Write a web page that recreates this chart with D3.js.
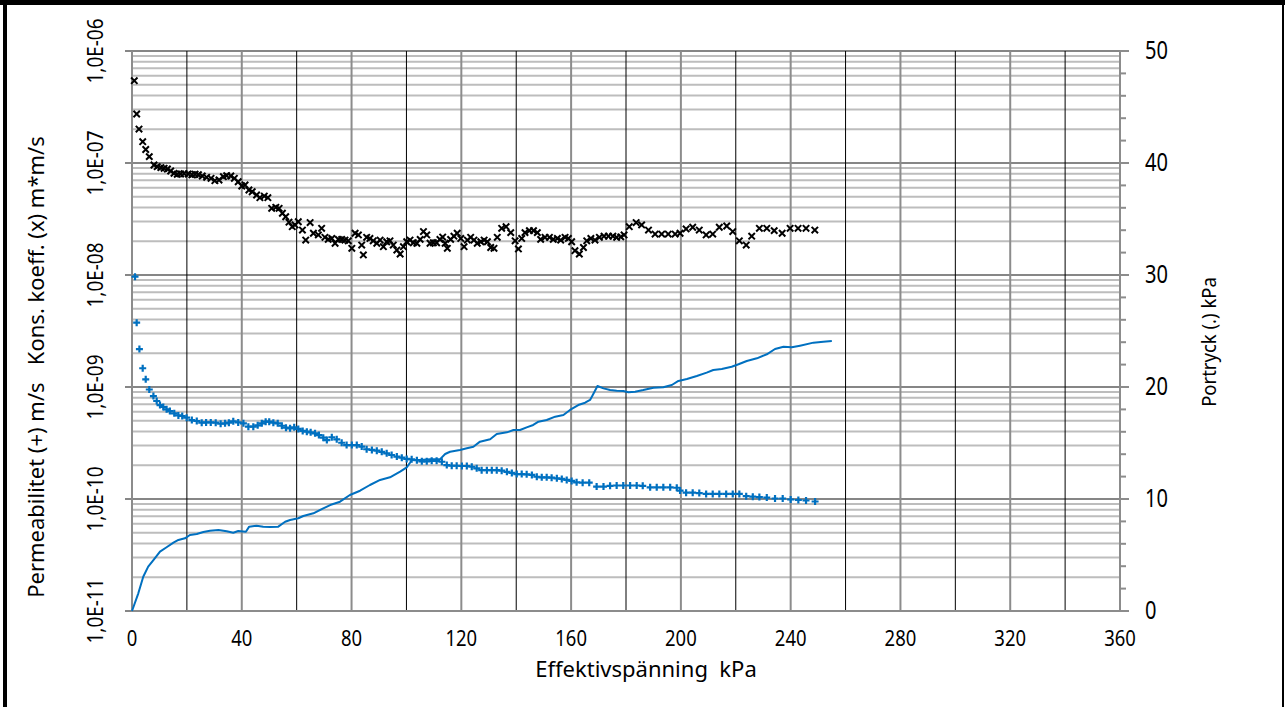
<!DOCTYPE html>
<html><head><meta charset="utf-8">
<script src="https://cdn.jsdelivr.net/npm/d3@7"></script>
<style>body{margin:0;background:#fff;}svg{display:block;font-family:"Noto Sans",sans-serif;}</style>
</head><body>
<svg id="c" width="1285" height="707"></svg>
<script>
// ---- data ----
const consKPa = [0.84,1.7,2.55,3.9,5.0,6.3,8.0,9.2,10.5,11.7,12.9,14.1,15.3,16.5,17.7,19.0,20.5,21.8,23.0,24.2,25.6,27.2,28.8,30.2,31.7,33.3,34.5,36.0,37.3,38.7,40.0,41.2,42.6,43.8,45.4,46.6,48.2,49.5,50.9,52.4,53.6,54.8,56.0,57.2,58.4,59.4,60.6,62.1,63.3,64.9,66.1,67.9,69.1,70.3,71.5,72.8,74.0,75.2,76.4,77.6,78.8,80.1,81.3,82.5,83.7,84.3,85.5,86.7,87.9,89.2,90.4,91.6,92.8,94.0,95.2,96.5,97.7,98.9,100.1,101.3,102.5,103.8,105.0,106.2,107.4,108.6,109.8,111.0,112.2,113.2,114.1,114.9,116.1,117.3,118.5,119.8,121.0,122.2,123.4,124.6,125.8,127.1,128.3,129.5,130.7,131.9,133.1,134.7,136.3,138.0,139.6,140.8,142.0,143.2,144.8,146.3,147.7,148.9,150.5,152.1,153.5,155.0,156.2,157.8,159.0,160.2,161.4,163.0,164.5,165.7,167.2,168.7,170.3,172.0,173.6,175.2,176.6,178.1,179.3,181.2,183.7,185.7,188.2,190.6,193.0,195.4,197.9,199.7,201.9,204.3,206.7,209.2,211.6,214.0,216.7,218.9,221.3,223.8,225.8,228.6,231.3,234.0,236.9,239.8,242.7,245.6,248.8];
const consVal = [5.43e-7,2.74e-7,2.01e-7,1.55e-7,1.32e-7,1.14e-7,9.6e-8,9.27e-8,9.1e-8,8.97e-8,8.84e-8,8.48e-8,8.09e-8,7.93e-8,7.98e-8,8.03e-8,7.98e-8,7.85e-8,7.93e-8,7.85e-8,7.65e-8,7.45e-8,7.3e-8,6.95e-8,7.05e-8,7.55e-8,7.7e-8,7.65e-8,7.3e-8,6.8e-8,6.23e-8,6.36e-8,5.74e-8,5.54e-8,5.18e-8,4.9e-8,5.07e-8,4.9e-8,3.94e-8,4.02e-8,3.94e-8,3.56e-8,3.31e-8,2.96e-8,2.7e-8,2.8e-8,2.99e-8,2.52e-8,2.05e-8,2.94e-8,2.36e-8,2.28e-8,2.61e-8,2.17e-8,2.08e-8,2.12e-8,1.92e-8,2.08e-8,2.08e-8,2.05e-8,2.02e-8,1.73e-8,2.36e-8,2.28e-8,1.85e-8,1.51e-8,2.17e-8,2.12e-8,2.02e-8,1.92e-8,2.05e-8,1.79e-8,1.98e-8,2.02e-8,1.85e-8,1.67e-8,1.54e-8,1.79e-8,1.98e-8,2.05e-8,1.94e-8,1.92e-8,2.08e-8,2.44e-8,2.28e-8,1.92e-8,1.94e-8,1.94e-8,2.08e-8,2.18e-8,1.92e-8,1.73e-8,2.08e-8,2.22e-8,2.36e-8,2.12e-8,1.79e-8,2.05e-8,2.17e-8,2.05e-8,1.92e-8,1.98e-8,2.05e-8,1.98e-8,1.76e-8,1.73e-8,2.17e-8,2.61e-8,2.7e-8,2.39e-8,2.02e-8,1.71e-8,2.12e-8,2.39e-8,2.49e-8,2.49e-8,2.39e-8,2.08e-8,2.17e-8,2.17e-8,2.08e-8,2.12e-8,2.05e-8,2.17e-8,2.12e-8,1.98e-8,1.65e-8,1.54e-8,1.76e-8,2.02e-8,2.12e-8,2.05e-8,2.17e-8,2.22e-8,2.22e-8,2.22e-8,2.17e-8,2.19e-8,2.28e-8,2.7e-8,2.94e-8,2.8e-8,2.52e-8,2.32e-8,2.32e-8,2.32e-8,2.32e-8,2.36e-8,2.58e-8,2.67e-8,2.52e-8,2.28e-8,2.32e-8,2.67e-8,2.74e-8,2.44e-8,2.02e-8,1.85e-8,2.22e-8,2.61e-8,2.61e-8,2.49e-8,2.36e-8,2.61e-8,2.61e-8,2.61e-8,2.52e-8];

const permKPa = [1.1,1.7,2.7,3.9,5.0,6.3,7.8,9.0,10.2,11.4,12.6,13.8,15.4,16.9,18.3,19.9,21.8,23.6,25.4,27.0,28.7,30.5,32.3,33.9,35.3,36.9,38.7,40.6,42.4,44.2,45.8,47.3,48.7,50.0,51.5,53.1,54.6,56.1,57.6,59.1,60.6,62.2,63.7,65.1,66.7,68.1,69.7,71.0,72.8,74.6,76.4,78.2,80.1,81.9,83.7,85.5,87.4,89.2,91.0,92.8,94.6,96.5,98.3,100.1,101.9,103.8,105.6,107.4,109.2,111.0,112.9,114.7,116.5,118.3,120.2,122.0,123.8,125.6,127.4,129.3,131.1,132.9,134.7,136.6,138.4,140.2,142.0,143.8,145.7,147.5,149.3,151.1,152.9,154.8,156.6,158.4,160.2,162.0,164.2,166.6,169.3,171.8,174.2,176.6,179.0,181.5,183.9,186.1,188.8,191.2,193.6,196.1,198.5,199.7,201.9,204.3,206.7,209.2,211.6,214.0,216.5,218.9,221.3,223.8,226.2,228.6,231.3,234.3,237.1,240.0,242.8,245.6,248.9];
const permVal = [9.66e-9,3.75e-9,2.18e-9,1.47e-9,1.17e-9,9.5e-10,8.3e-10,7.5e-10,6.9e-10,6.63e-10,6.32e-10,6.1e-10,5.82e-10,5.58e-10,5.51e-10,5.32e-10,5.07e-10,4.97e-10,4.8e-10,4.83e-10,4.83e-10,4.8e-10,4.7e-10,4.74e-10,4.8e-10,4.94e-10,4.83e-10,4.74e-10,4.42e-10,4.42e-10,4.55e-10,4.74e-10,4.9e-10,4.9e-10,4.8e-10,4.74e-10,4.51e-10,4.33e-10,4.28e-10,4.37e-10,4.22e-10,4.05e-10,3.99e-10,3.94e-10,3.86e-10,3.72e-10,3.53e-10,3.36e-10,3.56e-10,3.41e-10,3.18e-10,3.03e-10,3.03e-10,3.03e-10,2.94e-10,2.78e-10,2.74e-10,2.7e-10,2.64e-10,2.56e-10,2.47e-10,2.39e-10,2.34e-10,2.28e-10,2.26e-10,2.22e-10,2.17e-10,2.17e-10,2.19e-10,2.19e-10,2.15e-10,2.01e-10,1.98e-10,1.98e-10,1.97e-10,1.97e-10,1.94e-10,1.88e-10,1.81e-10,1.81e-10,1.81e-10,1.81e-10,1.79e-10,1.75e-10,1.71e-10,1.67e-10,1.67e-10,1.66e-10,1.64e-10,1.58e-10,1.56e-10,1.56e-10,1.55e-10,1.53e-10,1.51e-10,1.48e-10,1.45e-10,1.41e-10,1.40e-10,1.40e-10,1.29e-10,1.29e-10,1.31e-10,1.32e-10,1.32e-10,1.32e-10,1.32e-10,1.31e-10,1.27e-10,1.27e-10,1.27e-10,1.27e-10,1.26e-10,1.19e-10,1.14e-10,1.14e-10,1.13e-10,1.11e-10,1.11e-10,1.11e-10,1.11e-10,1.11e-10,1.11e-10,1.06e-10,1.05e-10,1.04e-10,1.03e-10,1.01e-10,1.01e-10,9.9e-11,9.8e-11,9.7e-11,9.5e-11];

const poreKPa = [0,2.3,4.1,5.9,7.8,10.2,12.6,15.1,16.9,19.3,21.1,23.6,26.0,28.4,31.5,34.5,36.9,38.7,41.5,42.7,45.4,47.8,50.3,53.3,55.8,57.6,60.6,62.4,66.1,69.7,72.2,75.8,79.4,83.1,86.7,90.4,94.0,97.7,100.1,101.3,101.9,105.0,108.6,112.2,114.1,115.9,119.5,122.0,124.4,126.8,130.5,132.9,136.6,139.0,141.4,143.8,146.2,148.1,151.1,154.2,157.2,159.6,162.6,165.1,166.9,167.9,169.6,171.8,174.2,176.6,179.0,180.9,183.3,186.3,190.0,193.6,196.7,199.1,202.2,205.8,209.4,211.8,214.9,218.5,221.0,224.0,227.7,231.3,234.3,237.4,240.4,243.4,248.3,251.9,255.0];
const poreVal = [0,1.58,3.06,3.96,4.55,5.3,5.69,6.1,6.34,6.49,6.79,6.88,7.05,7.17,7.23,7.12,6.99,7.14,7.08,7.53,7.62,7.53,7.5,7.53,7.97,8.13,8.28,8.48,8.72,9.17,9.46,9.76,10.36,10.74,11.25,11.7,11.94,12.44,12.83,13.24,13.48,13.48,13.54,13.54,14.02,14.22,14.38,14.53,14.67,15.12,15.33,15.8,15.95,16.16,16.16,16.4,16.61,16.9,17.05,17.35,17.5,17.95,18.39,18.6,18.84,19.29,20.09,19.88,19.73,19.67,19.64,19.53,19.58,19.73,19.94,19.97,20.18,20.54,20.71,20.98,21.28,21.52,21.61,21.81,22.03,22.32,22.56,22.92,23.39,23.6,23.54,23.69,23.96,24.04,24.1];

const leftTickVals = [1e-11,1e-10,1e-9,1e-8,1e-7,1e-6];
const leftTickLabels = ["1,0E-11","1,0E-10","1,0E-09","1,0E-08","1,0E-07","1,0E-06"];
const rightTicks = [0,10,20,30,40,50];
const xTicks = [0,40,80,120,160,200,240,280,320,360];

const xTitle = "Effektivspänning  kPa";
const leftTitle = "Permeabilitet (+) m/s   Kons. koeff. (x) m*m/s";
const rightTitle = "Portryck (.) kPa";

// ---- chart ----
const svg = d3.select("#c");
const L = 132, R = 1120, T = 51, B = 611;
const x = d3.scaleLinear().domain([0,360]).range([L,R]);
const yL = d3.scaleLog().domain([1e-11,1e-6]).range([B,T]);
const yR = d3.scaleLinear().domain([0,50]).range([B,T]);
const blue = "#0070C0";

// frame
svg.append("rect").attr("x",0).attr("y",0).attr("width",1285).attr("height",707).attr("fill","#fff");
svg.append("line").attr("x1",0).attr("x2",1285).attr("y1",2.5).attr("y2",2.5).attr("stroke","#000").attr("stroke-width",5);
svg.append("line").attr("x1",5).attr("x2",5).attr("y1",0).attr("y2",707).attr("stroke","#000").attr("stroke-width",4);
svg.append("line").attr("x1",1283).attr("x2",1283).attr("y1",0).attr("y2",707).attr("stroke","#000").attr("stroke-width",2);

const g = svg.append("g");
// horizontal minor log grid
const minorVals = [];
for (let e=-11; e<-6; e++) for (let m=2; m<=9; m++) minorVals.push(m*Math.pow(10,e));
g.selectAll(".hmin").data(minorVals).enter().append("line")
  .attr("x1",L).attr("x2",R).attr("y1",d=>yL(d)).attr("y2",d=>yL(d))
  .attr("stroke","#bdbdbd").attr("stroke-width",2);
g.selectAll(".hmaj").data(leftTickVals).enter().append("line")
  .attr("x1",L-7).attr("x2",R).attr("y1",d=>yL(d)).attr("y2",d=>yL(d))
  .attr("stroke","#868686").attr("stroke-width",2);
// vertical grid
const vGray = d3.range(40,361,40);
const vBlack = d3.range(20,361,40);
g.selectAll(".vg").data(vGray).enter().append("line")
  .attr("x1",d=>x(d)).attr("x2",d=>x(d)).attr("y1",T).attr("y2",B)
  .attr("stroke","#8c8c8c").attr("stroke-width",2);
g.selectAll(".vb").data(vBlack).enter().append("line")
  .attr("x1",d=>x(d)).attr("x2",d=>x(d)).attr("y1",T).attr("y2",B)
  .attr("stroke","#000").attr("stroke-width",1);
// axes lines
g.append("line").attr("x1",L).attr("x2",L).attr("y1",T).attr("y2",B+1).attr("stroke","#8c8c8c").attr("stroke-width",2);
g.append("line").attr("x1",R).attr("x2",R).attr("y1",T).attr("y2",B+1).attr("stroke","#8c8c8c").attr("stroke-width",2);
g.append("line").attr("x1",L).attr("x2",R+8).attr("y1",B).attr("y2",B).attr("stroke","#8c8c8c").attr("stroke-width",2);
// right ticks
const rMinor = d3.range(0,51,2);
g.selectAll(".rt").data(rMinor).enter().append("line")
  .attr("x1",R).attr("x2",R+6).attr("y1",d=>yR(d)).attr("y2",d=>yR(d))
  .attr("stroke","#8c8c8c").attr("stroke-width",2);
g.selectAll(".rT").data(rightTicks).enter().append("line")
  .attr("x1",R).attr("x2",R+9).attr("y1",d=>yR(d)).attr("y2",d=>yR(d))
  .attr("stroke","#8c8c8c").attr("stroke-width",2);

// pore pressure line
const line = d3.line().x((d,i)=>x(poreKPa[i])).y(d=>yR(d));
g.append("path").datum(poreVal).attr("d",line).attr("fill","none").attr("stroke",blue).attr("stroke-width",2).attr("stroke-linejoin","round");

// + markers
const s = 3.5;
const pg = g.append("g");
permVal.forEach((v,i)=>{
  const cx = x(permKPa[i]), cy = yL(v);
  pg.append("path").attr("d",`M${cx-s},${cy}H${cx+s}M${cx},${cy-s}V${cy+s}`).attr("stroke",blue).attr("stroke-width",2.2);
});
// x markers
const xs = 3.2;
const cg = g.append("g");
consVal.forEach((v,i)=>{
  const cx = x(consKPa[i]), cy = yL(v);
  cg.append("path").attr("d",`M${cx-xs},${cy-xs}L${cx+xs},${cy+xs}M${cx-xs},${cy+xs}L${cx+xs},${cy-xs}`).attr("stroke","#000").attr("stroke-width",2);
});

// labels
svg.selectAll(".lt").data(leftTickVals).enter().append("text")
  .attr("transform",(d)=>`translate(102.5,${yL(d)}) rotate(-90) scale(0.9,1)`)
  .attr("text-anchor","middle").attr("font-size",21).attr("fill","#000")
  .text((d,i)=>leftTickLabels[i]);
svg.selectAll(".rl").data(rightTicks).enter().append("text")
  .attr("transform",d=>`translate(1145,${yR(d)+8}) scale(0.82,1)`)
  .attr("font-size",24.5).attr("fill","#000").text(d=>d);
svg.selectAll(".xl").data(xTicks).enter().append("text")
  .attr("transform",d=>`translate(${x(d)},646) scale(0.86,1)`)
  .attr("text-anchor","middle").attr("font-size",21.5).attr("fill","#000").text(d=>d);
svg.append("text").attr("x",646).attr("y",677).attr("text-anchor","middle").attr("font-size",22).attr("fill","#000")
  .style("white-space","pre").attr("xml:space","preserve").text(xTitle);
svg.append("text").attr("transform","translate(44,367) rotate(-90)").attr("text-anchor","middle").attr("font-size",22).attr("fill","#000")
  .style("white-space","pre").attr("xml:space","preserve").text(leftTitle);
svg.append("text").attr("transform","translate(1216,342) rotate(-90) scale(0.95,1)").attr("text-anchor","middle").attr("font-size",19.5).attr("fill","#000")
  .text(rightTitle);
</script>
</body></html>
